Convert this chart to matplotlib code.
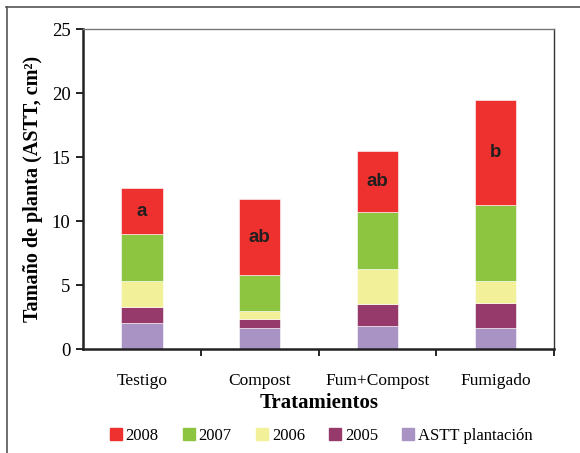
import matplotlib
matplotlib.use("Agg")
import matplotlib.pyplot as plt
from matplotlib.lines import Line2D
import numpy as np

categories = ["Testigo", "Compost", "Fum+Compost", "Fumigado"]
astt = [2.01, 1.64, 1.80, 1.64]
y2005 = [1.25, 0.68, 1.69, 1.93]
y2006 = [2.06, 0.63, 2.79, 1.75]
y2007 = [3.65, 2.81, 4.43, 5.91]
y2008 = [3.64, 5.99, 4.79, 8.26]
letters = ["a", "ab", "ab", "b"]

series = [("ASTT plantación", astt, "#A992C4"),
          ("2005", y2005, "#963A6C"),
          ("2006", y2006, "#F3F09A"),
          ("2007", y2007, "#8DC540"),
          ("2008", y2008, "#EE312E")]

plt.rcParams['font.family'] = ['Liberation Serif', 'DejaVu Serif']

W, H = 580, 453
fig = plt.figure(figsize=(W/100, H/100), dpi=100)
ax = fig.add_axes([83/W, (H-349)/H, (554.3-83)/W, (349-29.3)/H])

x = np.arange(len(categories))
bottom = np.zeros(len(categories))
for name, vals, col in series:
    ax.bar(x, vals, width=0.35, bottom=bottom, color=col,
           edgecolor="#ffffff", linewidth=0.4, label=name, zorder=2)
    bottom = bottom + np.array(vals)

base = np.array(astt) + np.array(y2005) + np.array(y2006) + np.array(y2007)
for i, t in enumerate(letters):
    ax.text(x[i], base[i] + y2008[i] / 2, t, ha="center", va="center",
            fontsize=13.5, fontweight="bold", family="Liberation Sans",
            color="#231F20", zorder=3)

ax.set_xlim(-0.5, 3.5)
ax.set_ylim(0, 25)
ax.set_yticks([0, 5, 10, 15, 20, 25])
ax.tick_params(axis="y", direction="out", length=5, width=1.2, labelsize=13.5, pad=4)
ax.set_xticks(x)
ax.set_xticklabels(categories)
ax.tick_params(axis="x", which="major", length=0, labelsize=12.5, pad=17)
ax.set_xticks([0.5, 1.5, 2.5, 3.5], minor=True)
ax.tick_params(axis="x", which="minor", direction="out", length=5, width=1.2)

for s in ["left", "bottom"]:
    ax.spines[s].set_linewidth(1.8)
    ax.spines[s].set_color("#222222")
ax.spines["top"].set_linewidth(1.0)
ax.spines["top"].set_color("#777777")
ax.spines["right"].set_linewidth(1.0)
ax.spines["right"].set_color("#333333")

ax.set_ylabel("Tamaño de planta (ASTT, cm²)", fontsize=14.5, fontweight="bold", labelpad=6)
ax.set_xlabel("Tratamientos", fontsize=15, fontweight="bold", labelpad=3)

order = ["2008", "2007", "2006", "2005", "ASTT plantación"]
cols = {n: c for n, _, c in series}
leg_handles = [Line2D([0], [0], marker="s", linestyle="none", markersize=8,
                      markerfacecolor=cols[n], markeredgecolor=cols[n]) for n in order]
fig.legend(leg_handles, order, loc="center", bbox_to_anchor=(320/W, 1 - 436/H),
           ncol=5, frameon=False, fontsize=12, handletextpad=0.1,
           columnspacing=1.3, handlelength=1.0)

# outer frame
fig.add_artist(Line2D([6.5/W, 6.5/W], [0, 1 - 7/H], transform=fig.transFigure,
                      color="#555555", linewidth=1.2))
fig.add_artist(Line2D([6/W, 1], [1 - 7/H, 1 - 7/H], transform=fig.transFigure,
                      color="#555555", linewidth=1.2))

fig.savefig("out.png", dpi=100)
